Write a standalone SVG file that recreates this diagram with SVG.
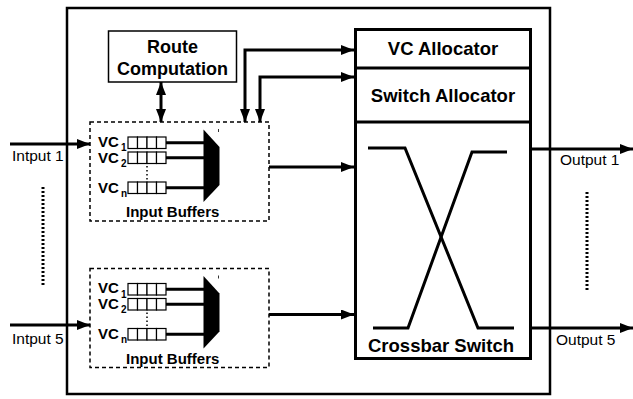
<svg xmlns="http://www.w3.org/2000/svg" width="633" height="399" viewBox="0 0 633 399">
<defs>
<style>
.b{font-family:"Liberation Sans",Arial,sans-serif;font-weight:bold;fill:#000}
.n{font-family:"Liberation Sans",Arial,sans-serif;fill:#000}
.thick{fill:none;stroke:#000;stroke-width:3}
.q{fill:#fff;stroke:#000;stroke-width:1.2}
.dash{fill:none;stroke:#000;stroke-width:1.5;stroke-dasharray:4 3}
.dots{fill:none;stroke:#000;stroke-width:3;stroke-dasharray:2 2}
</style>
<marker id="ah" markerUnits="userSpaceOnUse" markerWidth="14" markerHeight="12" refX="13" refY="5" orient="auto-start-reverse">
<path d="M0,0 L13,5 L0,10 z" fill="#000"/>
</marker>
<g id="buf">
<rect class="dash" x="90" y="122" width="179" height="99"/>
<text class="b" x="98" y="146.7" font-size="15">VC</text><text class="b" x="121" y="151" font-size="10">1</text>
<text class="b" x="98" y="162.5" font-size="15">VC</text><text class="b" x="121" y="166.5" font-size="10">2</text>
<text class="b" x="98" y="192.5" font-size="15">VC</text><text class="b" x="121" y="196.5" font-size="10">n</text>
<g>
<rect class="q" x="128" y="137" width="9.5" height="11.5"/><rect class="q" x="137.5" y="137" width="9.5" height="11.5"/><rect class="q" x="147" y="137" width="9.5" height="11.5"/><rect class="q" x="156.5" y="137" width="9.5" height="11.5"/>
<rect class="q" x="128" y="152" width="9.5" height="11.5"/><rect class="q" x="137.5" y="152" width="9.5" height="11.5"/><rect class="q" x="147" y="152" width="9.5" height="11.5"/><rect class="q" x="156.5" y="152" width="9.5" height="11.5"/>
<rect class="q" x="128" y="182" width="9.5" height="11.5"/><rect class="q" x="137.5" y="182" width="9.5" height="11.5"/><rect class="q" x="147" y="182" width="9.5" height="11.5"/><rect class="q" x="156.5" y="182" width="9.5" height="11.5"/>
</g>
<line x1="147" y1="166" x2="147" y2="181" stroke="#000" stroke-width="1.5" stroke-dasharray="1.5 2.5"/>
<path class="thick" d="M166,142.7 H204 M166,157.7 H204 M166,187.7 H204"/>
<polygon points="203.5,129.5 219.5,147 219.5,185 203.5,202" fill="#000"/>
<line x1="218.5" y1="129" x2="218.5" y2="132" stroke="#000" stroke-width="0.8"/>
<text class="b" x="126" y="217" font-size="15">Input Buffers</text>
</g>
</defs>

<rect id="router" x="67" y="8" width="483" height="386" fill="none" stroke="#000" stroke-width="2.5"/>

<g id="route-computation">
<rect x="108.5" y="31" width="128" height="51" fill="#fff" stroke="#000" stroke-width="1.5"/>
<text class="b" x="172.5" y="53" font-size="18" text-anchor="middle">Route</text>
<text class="b" x="172.5" y="74.5" font-size="18" text-anchor="middle">Computation</text>
</g>

<g id="input-buffers-1"><use href="#buf"/></g>
<g id="input-buffers-5"><use href="#buf" transform="translate(0,146.5)"/></g>

<g id="allocators">
<rect x="355.5" y="29.5" width="175" height="329" fill="#fff" stroke="#000" stroke-width="3"/>
<line x1="355.5" y1="68" x2="530.5" y2="68" stroke="#000" stroke-width="3"/>
<line x1="355.5" y1="122" x2="530.5" y2="122" stroke="#000" stroke-width="3"/>
<text class="b" x="443" y="55" font-size="18.5" text-anchor="middle">VC Allocator</text>
<text class="b" x="443" y="102" font-size="18.5" text-anchor="middle">Switch Allocator</text>
<path class="thick" d="M368,148 H405 L478,328 H514"/>
<path class="thick" d="M507,152 H472 L408,328 H373"/>
<text class="b" x="441" y="352" font-size="18.5" text-anchor="middle">Crossbar Switch</text>
</g>

<g id="labels">
<text class="n" x="12" y="160.5" font-size="15.5">Intput 1</text>
<text class="n" x="12" y="343.5" font-size="15.5">Intput 5</text>
<text class="n" x="560" y="165" font-size="15.5">Output 1</text>
<text class="n" x="556" y="345" font-size="15.5">Output 5</text>
<line class="dots" x1="43" y1="187" x2="43" y2="285"/>
<line class="dots" x1="587" y1="192" x2="587" y2="291"/>
</g>

<g id="connectors" class="thick">
<path d="M10,144 H90" marker-end="url(#ah)"/>
<path d="M10,325 H90" marker-end="url(#ah)"/>
<path d="M161,82 V122" marker-start="url(#ah)" marker-end="url(#ah)"/>
<path d="M245,122 V50 H354" marker-start="url(#ah)" marker-end="url(#ah)"/>
<path d="M260,122 V77 H354" marker-start="url(#ah)" marker-end="url(#ah)"/>
<path d="M269,167 H354" marker-end="url(#ah)"/>
<path d="M269,314.5 H354" marker-end="url(#ah)"/>
<path d="M531,149 H633" marker-end="url(#ah)"/>
<path d="M531,328 H633" marker-end="url(#ah)"/>
</g>
</svg>
